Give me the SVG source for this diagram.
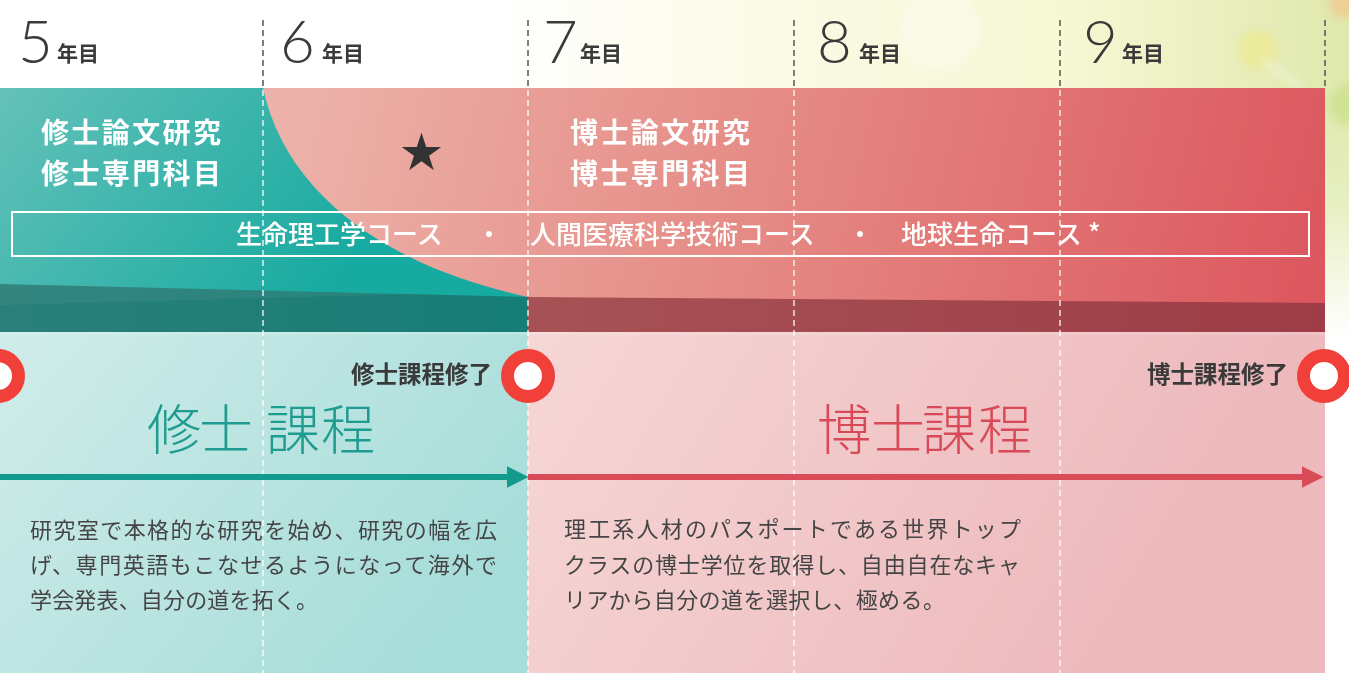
<svg xmlns="http://www.w3.org/2000/svg" width="1349" height="673" viewBox="0 0 1349 673">
<defs>
  <style>
    .yr { font-family: Lato, "Open Sans", "Liberation Sans", sans-serif; font-weight: 300; font-size: 60px; fill: #3a3a3a; }
    .nen { font-family: "Noto Sans CJK JP", sans-serif; font-weight: 700; font-size: 21px; fill: #3a3a3a; }
    .head { font-family: "Noto Sans CJK JP", sans-serif; font-weight: 700; font-size: 28px; letter-spacing: 2.4px; fill: #ffffff; }
    .course { font-family: "Noto Sans CJK JP", sans-serif; font-weight: 500; font-size: 26px; fill: #ffffff; }
    .done { font-family: "Noto Sans CJK JP", sans-serif; font-weight: 700; font-size: 23.5px; fill: #3a3a3a; text-anchor: end; }
    .big { font-family: "Noto Sans CJK JP", sans-serif; font-weight: 300; font-size: 54px; }
    .para { font-family: "Noto Sans CJK JP", sans-serif; font-weight: 400; font-size: 22px; fill: #454545; }
    .ring { fill: #ffffff; stroke: #f1403a; stroke-width: 13; }
    .dashTop { stroke: #555555; stroke-width: 1.5; stroke-dasharray: 6 4; }
    .dashW { stroke: #ffffff; stroke-opacity: 0.85; stroke-width: 1.5; stroke-dasharray: 6 4; }
  </style>
  <linearGradient id="hdr" x1="0" y1="0" x2="1" y2="0">
    <stop offset="0" stop-color="#ffffff"/>
    <stop offset="0.36" stop-color="#ffffff"/>
    <stop offset="0.55" stop-color="#fbfbe9"/>
    <stop offset="0.8" stop-color="#f6f7d2"/>
    <stop offset="1" stop-color="#dfe8ad"/>
  </linearGradient>
  <linearGradient id="side" x1="0" y1="0" x2="0" y2="1">
    <stop offset="0" stop-color="#dfe9ae"/>
    <stop offset="0.45" stop-color="#e6efc0"/>
    <stop offset="1" stop-color="#ffffff"/>
  </linearGradient>
  <linearGradient id="teal" gradientUnits="userSpaceOnUse" x1="0" y1="88" x2="300" y2="330">
    <stop offset="0" stop-color="#64c1b9"/>
    <stop offset="1" stop-color="#17aaa0"/>
  </linearGradient>
  <linearGradient id="red" gradientUnits="userSpaceOnUse" x1="300" y1="88" x2="1325" y2="330">
    <stop offset="0" stop-color="#ecb2a9"/>
    <stop offset="0.45" stop-color="#e58a84"/>
    <stop offset="1" stop-color="#dc555d"/>
  </linearGradient>
  <linearGradient id="darkT" x1="0" y1="0" x2="1" y2="0">
    <stop offset="0" stop-color="#2a7f79"/>
    <stop offset="1" stop-color="#167e76"/>
  </linearGradient>
  <linearGradient id="darkR" x1="0" y1="0" x2="1" y2="0">
    <stop offset="0" stop-color="#a65255"/>
    <stop offset="1" stop-color="#9e3d47"/>
  </linearGradient>
  <linearGradient id="lowT" gradientUnits="userSpaceOnUse" x1="0" y1="332" x2="400" y2="673">
    <stop offset="0" stop-color="#d0ecea"/>
    <stop offset="1" stop-color="#a7ddd9"/>
  </linearGradient>
  <linearGradient id="lowR" gradientUnits="userSpaceOnUse" x1="528" y1="332" x2="1100" y2="673">
    <stop offset="0" stop-color="#f6d7d5"/>
    <stop offset="1" stop-color="#edb9bd"/>
  </linearGradient>
  <filter id="blur" x="-50%" y="-50%" width="200%" height="200%">
    <feGaussianBlur stdDeviation="4"/>
  </filter>
  <marker id="headT" viewBox="0 0 10 10" refX="0" refY="5" markerWidth="3.6" markerHeight="3.8" orient="auto" markerUnits="strokeWidth">
    <path d="M0,0 L10,5 L0,10 Z" fill="#129a8c"/>
  </marker>
  <marker id="headR" viewBox="0 0 10 10" refX="0" refY="5" markerWidth="3.6" markerHeight="3.8" orient="auto" markerUnits="strokeWidth">
    <path d="M0,0 L10,5 L0,10 Z" fill="#d94b57"/>
  </marker>
</defs>

<g id="background">
  <rect x="0" y="0" width="1349" height="673" fill="#ffffff"/>
  <rect x="0" y="0" width="1349" height="88" fill="url(#hdr)"/>
  <rect x="1325" y="88" width="24" height="250" fill="url(#side)"/>
  <g filter="url(#blur)" opacity="0.7">
    <circle cx="940" cy="30" r="40" fill="#ffffff" opacity="0.5"/>
    <circle cx="1258" cy="50" r="20" fill="#ecea8e"/>
    <line x1="1262" y1="60" x2="1305" y2="90" stroke="#ffffff" stroke-width="3"/>
    <circle cx="1343" cy="4" r="14" fill="#f2c58a"/>
    <circle cx="1349" cy="105" r="20" fill="#c9df8a"/>
  </g>
</g>

<g id="top-band">
  <rect x="0" y="88" width="528" height="244" fill="url(#teal)"/>
  <path d="M263,88 H1325 V310 L528,304 L528,297 C380,265 285,190 263,88 Z" fill="url(#red)"/>
  <polygon points="0,284 528,297 528,332 0,332" fill="url(#darkT)"/>
  <polygon points="0,284 420,294 0,305" fill="#ffffff" opacity="0.05"/>
  <polygon points="528,297 1325,303 1325,332 528,332" fill="url(#darkR)"/>
</g>

<g id="lower-band">
  <rect x="0" y="332" width="528" height="341" fill="url(#lowT)"/>
  <rect x="528" y="332" width="797" height="341" fill="url(#lowR)"/>
  <rect x="0" y="332" width="1325" height="3" fill="#ffffff" opacity="0.15"/>
</g>

<g id="gridlines">
  <line class="dashTop" x1="263" y1="20" x2="263" y2="88"/>
  <line class="dashTop" x1="528" y1="20" x2="528" y2="88"/>
  <line class="dashTop" x1="794" y1="20" x2="794" y2="88"/>
  <line class="dashTop" x1="1060" y1="20" x2="1060" y2="88"/>
  <line class="dashTop" x1="1325" y1="20" x2="1325" y2="88"/>
  <line class="dashW" x1="263" y1="90" x2="263" y2="673"/>
  <line class="dashW" x1="528" y1="90" x2="528" y2="673"/>
  <line class="dashW" x1="794" y1="90" x2="794" y2="673"/>
  <line class="dashW" x1="1060" y1="90" x2="1060" y2="673"/>
</g>

<g id="years">
  <g id="year5"><text class="yr" x="18" y="63">5</text><text class="nen" x="57" y="61">年目</text></g>
  <g id="year6"><text class="yr" x="280" y="63">6</text><text class="nen" x="322" y="61">年目</text></g>
  <g id="year7"><text class="yr" x="543" y="63">7</text><text class="nen" x="580" y="61">年目</text></g>
  <g id="year8"><text class="yr" x="817" y="63">8</text><text class="nen" x="859" y="61">年目</text></g>
  <g id="year9"><text class="yr" x="1083" y="63">9</text><text class="nen" x="1122" y="61">年目</text></g>
</g>

<g id="master-research">
  <text class="head"><tspan x="41" y="143">修士論文研究</tspan><tspan x="41" y="184">修士専門科目</tspan></text>
</g>
<g id="star">
  <text x="421.5" y="167" text-anchor="middle" font-family="Noto Sans CJK JP, DejaVu Sans, sans-serif" font-size="42" fill="#333333">★</text>
</g>
<g id="doctor-research">
  <text class="head"><tspan x="570" y="143">博士論文研究</tspan><tspan x="570" y="184">博士専門科目</tspan></text>
</g>

<g id="courses">
  <rect x="12" y="212" width="1297" height="44" fill="none" stroke="#ffffff" stroke-width="2"/>
  <text class="course" x="236" y="244">生命理工学コース</text>
  <text class="course" x="489" y="244" text-anchor="middle">・</text>
  <text class="course" x="530" y="244">人間医療科学技術コース</text>
  <text class="course" x="860" y="244" text-anchor="middle">・</text>
  <text class="course" x="901" y="244">地球生命コース</text>
  <text class="course" x="1088" y="243" font-size="30">*</text>
</g>

<g id="connectors">
  <line x1="0" y1="477" x2="507" y2="477" stroke="#129a8c" stroke-width="6" marker-end="url(#headT)"/>
  <line x1="528" y1="477" x2="1302" y2="477" stroke="#d94b57" stroke-width="6" marker-end="url(#headR)"/>
</g>

<g id="milestone-start"><circle class="ring" cx="-2" cy="376" r="20.5"/></g>
<g id="milestone-master">
  <circle class="ring" cx="528" cy="376" r="20.5"/>
  <text class="done" x="492" y="383">修士課程修了</text>
</g>
<g id="milestone-doctor">
  <circle class="ring" cx="1324" cy="376" r="20.5"/>
  <text class="done" x="1288" y="383">博士課程修了</text>
</g>

<g id="master-course">
  <text class="big" y="450" fill="#1f9c90"><tspan x="147">修</tspan><tspan x="199">士</tspan><tspan x="266">課</tspan><tspan x="321">程</tspan></text>
  <text class="para" x="30" y="538" textLength="467" lengthAdjust="spacing">研究室で本格的な研究を始め、研究の幅を広</text>
  <text class="para" x="30" y="573" textLength="467" lengthAdjust="spacing">げ、専門英語もこなせるようになって海外で</text>
  <text class="para" x="30" y="608" textLength="288" lengthAdjust="spacing">学会発表、自分の道を拓く。</text>
</g>

<g id="doctor-course">
  <text class="big" y="450" fill="#d94a58"><tspan x="817">博</tspan><tspan x="871">士</tspan><tspan x="922">課</tspan><tspan x="978">程</tspan></text>
  <text class="para" x="564" y="537" textLength="457" lengthAdjust="spacing">理工系人材のパスポートである世界トップ</text>
  <text class="para" x="564" y="573" textLength="456" lengthAdjust="spacing">クラスの博士学位を取得し、自由自在なキャ</text>
  <text class="para" x="564" y="608" textLength="381" lengthAdjust="spacing">リアから自分の道を選択し、極める。</text>
</g>
</svg>
